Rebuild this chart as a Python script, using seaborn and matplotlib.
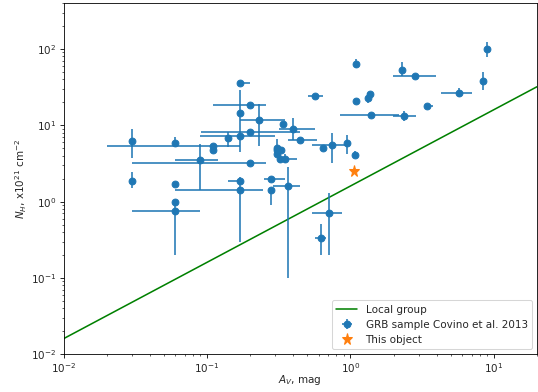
import numpy as np
import pandas as pd
import matplotlib
matplotlib.use("Agg")
import matplotlib.pyplot as plt
import seaborn as sns

# GRB sample (Covino et al. 2013): A_V, N_H with asymmetric errors
av = [0.030, 0.030, 0.060, 0.060, 0.060, 0.060, 0.090, 0.110, 0.110, 0.140,
      0.170, 0.170, 0.170, 0.170, 0.170, 0.200, 0.200, 0.200, 0.230, 0.278,
      0.278, 0.309, 0.309, 0.330, 0.309, 0.323, 0.350, 0.337, 0.368, 0.399,
      0.445, 0.566, 0.645, 0.740, 0.945, 1.080, 0.708, 0.619, 1.090, 1.090,
      1.320, 1.380, 1.400, 2.360, 2.280, 2.800, 3.440, 5.680, 8.380, 8.940]
av_lo = [0.0, 0.0, 0.0, 0.0, 0.0, 0.030, 0.030, 0.090, 0.0, 0.0,
         0.080, 0.0, 0.0, 0.030, 0.110, 0.109, 0.090, 0.170, 0.060, 0.028,
         0.0, 0.0, 0.0, 0.0, 0.0, 0.0, 0.0, 0.0, 0.078, 0.081,
         0.080, 0.058, 0.0, 0.198, 0.0, 0.0, 0.166, 0.053, 0.0, 0.0,
         0.0, 0.0, 0.550, 0.380, 0.0, 0.830, 0.050, 1.410, 0.0, 0.0]
av_hi = [0.0, 0.0, 0.0, 0.0, 0.0, 0.030, 0.030, 0.060, 0.0, 0.0,
         0.130, 0.0, 0.030, 0.0, 0.077, 0.245, 0.058, 0.058, 0.120, 0.072,
         0.0, 0.0, 0.0, 0.0, 0.0, 0.100, 0.0, 0.0, 0.077, 0.167,
         0.136, 0.079, 0.0, 0.205, 0.0, 0.0, 0.169, 0.055, 0.0, 0.0,
         0.0, 0.0, 0.800, 0.530, 0.0, 1.130, 0.320, 1.400, 0.0, 0.0]
nh = [6.19, 1.89, 5.95, 1.69, 0.99, 0.745, 3.49, 5.37, 4.76, 6.84,
      7.35, 14.3, 35.9, 1.89, 1.40, 8.05, 18.2, 3.22, 11.9, 1.99,
      1.40, 5.09, 4.27, 4.72, 4.72, 3.57, 3.57, 10.3, 1.60, 8.81,
      6.38, 24.3, 5.09, 5.49, 5.78, 4.06, 0.70, 0.33, 63.7, 20.9,
      22.8, 25.8, 13.8, 13.4, 53.7, 44.6, 17.9, 26.7, 38.6, 100.0]
nh_lo = [2.48, 0.40, 0.83, 0.0, 0.0, 0.547, 2.08, 0.30, 0.30, 1.63,
         0.30, 9.82, 0.0, 0.0, 1.10, 0.0, 0.0, 0.0, 6.53, 0.0,
         0.50, 0.90, 0.30, 0.40, 0.40, 0.40, 0.40, 0.0, 1.50, 2.43,
         0.0, 0.0, 0.0, 2.25, 1.59, 0.35, 0.50, 0.13, 7.8, 0.0,
         3.5, 0.0, 0.0, 2.1, 9.8, 0.0, 0.0, 3.4, 9.2, 21.4]
nh_hi = [2.70, 0.56, 1.10, 0.0, 0.0, 0.25, 2.17, 0.40, 0.40, 1.36,
         0.40, 14.5, 0.0, 0.20, 0.30, 0.0, 0.0, 0.0, 7.0, 0.0,
         0.0, 1.50, 0.40, 0.40, 0.40, 0.60, 0.60, 0.0, 1.25, 3.69,
         0.0, 0.0, 0.0, 2.39, 1.64, 0.52, 0.58, 0.18, 9.6, 0.0,
         3.5, 0.0, 0.0, 1.9, 13.3, 0.0, 0.0, 3.9, 10.9, 22.0]

# This object
obj_av = [1.06]
obj_nh = [2.51]

# Local group relation N_H / A_V (x10^21 cm^-2 per mag)
lg_ratio = 1.6
lg_av = [0.01, 20.0]

DPI = 75
sns.set_style("ticks")
plt.rcParams['font.family'] = ['DejaVu Sans']

fig = plt.figure(figsize=(538 / DPI, 392 / DPI), dpi=DPI)
ax = fig.add_axes([63.5 / 538, 1 - 354.3 / 392, (537 - 63.5) / 538, (354.3 - 3) / 392])

lg_df = pd.DataFrame({"av": lg_av, "nh": [lg_ratio * a for a in lg_av]})
sns.lineplot(data=lg_df, x="av", y="nh", color="green", lw=1.5, ax=ax, label="Local group")

eb = ax.errorbar(av, nh, xerr=[av_lo, av_hi], yerr=[nh_lo, nh_hi], fmt="o",
                 color="#1f77b4", ms=6.5, elinewidth=1.5, capsize=0,
                 label="GRB sample Covino et al. 2013")

ax.plot(obj_av, obj_nh, "*", color="#ff7f0e", ms=11, ls="none", label="This object")

ax.set_xscale("log")
ax.set_yscale("log")
ax.set_xlim(0.01, 20)
ax.set_ylim(0.01, 400)
ax.set_xlabel(r"$A_V$, mag", labelpad=-2.5)
ax.set_ylabel(r"$N_H$, x10$^{21}$ cm$^{-2}$", labelpad=2)
for s in ax.spines.values():
    s.set_visible(True)
    s.set_color("black")
    s.set_linewidth(0.8)
ax.tick_params(which="both", direction="out", color="black")

handles, labels = ax.get_legend_handles_labels()
order = ["Local group", "GRB sample Covino et al. 2013", "This object"]
hmap = dict(zip(labels, handles))
ax.legend([hmap[l] for l in order], order, loc="lower right", frameon=True)

fig.savefig("out.png", dpi=DPI)
